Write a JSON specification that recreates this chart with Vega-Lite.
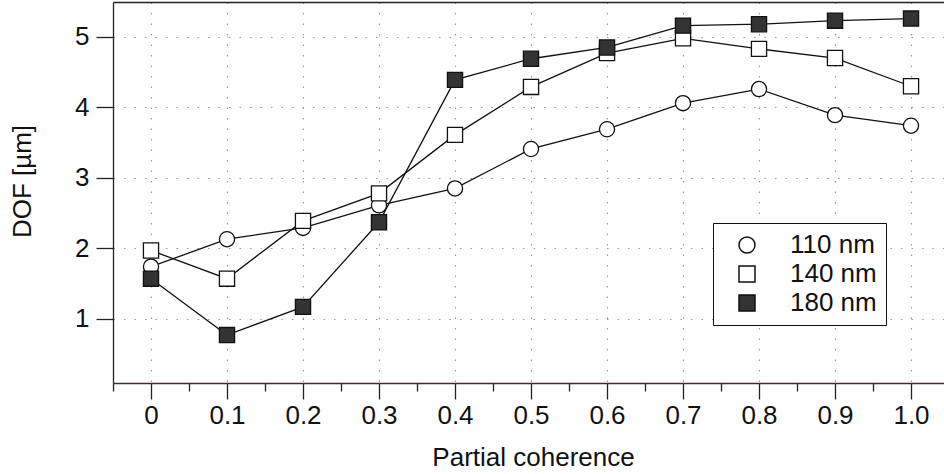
{
  "$schema": "https://vega.github.io/schema/vega-lite/v6.json",
  "width": 831,
  "height": 381,
  "autosize": {"type": "none"},
  "padding": {"left": 113, "top": 2, "right": 0, "bottom": 91},
  "background": "white",
  "config": {
    "view": {"stroke": null},
    "font": "Liberation Sans",
    "axis": {
      "labelFont": "Liberation Sans",
      "labelFontSize": 26,
      "labelColor": "#111",
      "titleFont": "Liberation Sans",
      "titleFontSize": 26,
      "titleFontWeight": "normal",
      "titleColor": "#111",
      "tickColor": "#222",
      "tickWidth": 1.3,
      "domainColor": "#222",
      "domainWidth": 1.3,
      "gridColor": "#999",
      "gridDash": [1.5, 9],
      "gridWidth": 1.2
    },
    "legend": {
      "labelFont": "Liberation Sans",
      "labelFontSize": 26,
      "labelColor": "#111"
    }
  },
  "data": {
    "values": [
      {"series": "110 nm", "pc": 0.0, "dof": 1.74},
      {"series": "110 nm", "pc": 0.1, "dof": 2.13},
      {"series": "110 nm", "pc": 0.2, "dof": 2.29},
      {"series": "110 nm", "pc": 0.3, "dof": 2.61},
      {"series": "110 nm", "pc": 0.4, "dof": 2.85},
      {"series": "110 nm", "pc": 0.5, "dof": 3.41},
      {"series": "110 nm", "pc": 0.6, "dof": 3.69},
      {"series": "110 nm", "pc": 0.7, "dof": 4.06},
      {"series": "110 nm", "pc": 0.8, "dof": 4.26},
      {"series": "110 nm", "pc": 0.9, "dof": 3.89},
      {"series": "110 nm", "pc": 1.0, "dof": 3.74},
      {"series": "140 nm", "pc": 0.0, "dof": 1.97},
      {"series": "140 nm", "pc": 0.1, "dof": 1.57},
      {"series": "140 nm", "pc": 0.2, "dof": 2.39},
      {"series": "140 nm", "pc": 0.3, "dof": 2.78},
      {"series": "140 nm", "pc": 0.4, "dof": 3.61},
      {"series": "140 nm", "pc": 0.5, "dof": 4.29},
      {"series": "140 nm", "pc": 0.6, "dof": 4.77},
      {"series": "140 nm", "pc": 0.7, "dof": 4.98},
      {"series": "140 nm", "pc": 0.8, "dof": 4.83},
      {"series": "140 nm", "pc": 0.9, "dof": 4.70},
      {"series": "140 nm", "pc": 1.0, "dof": 4.30},
      {"series": "180 nm", "pc": 0.0, "dof": 1.57},
      {"series": "180 nm", "pc": 0.1, "dof": 0.77},
      {"series": "180 nm", "pc": 0.2, "dof": 1.17},
      {"series": "180 nm", "pc": 0.3, "dof": 2.37},
      {"series": "180 nm", "pc": 0.4, "dof": 4.39},
      {"series": "180 nm", "pc": 0.5, "dof": 4.69},
      {"series": "180 nm", "pc": 0.6, "dof": 4.85},
      {"series": "180 nm", "pc": 0.7, "dof": 5.16},
      {"series": "180 nm", "pc": 0.8, "dof": 5.18},
      {"series": "180 nm", "pc": 0.9, "dof": 5.23},
      {"series": "180 nm", "pc": 1.0, "dof": 5.26}
    ]
  },
  "layer": [
    {
      "mark": {"type": "line", "color": "#111", "strokeWidth": 1.3},
      "encoding": {
        "x": {
          "field": "pc",
          "type": "quantitative",
          "scale": {"domain": [-0.05, 1.0434], "nice": false, "zero": false},
          "axis": {
            "orient": "bottom",
            "values": [0, 0.1, 0.2, 0.3, 0.4, 0.5, 0.6, 0.7, 0.8, 0.9, 1.0],
            "format": ".1f",
            "labelExpr": "datum.value == 0 ? '0' : datum.label",
            "labelBaseline": "alphabetic",
            "labelPadding": 24,
            "tickSize": 16,
            "grid": true,
            "domainColor": "#4a2a2a",
            "title": "Partial coherence",
            "titleBaseline": "alphabetic",
            "titleX": 420,
            "titleY": 82
          }
        },
        "y": {
          "field": "dof",
          "type": "quantitative",
          "scale": {"domain": [0.09, 5.495], "nice": false, "zero": false},
          "axis": {
            "values": [1, 2, 3, 4, 5],
            "format": "d",
            "tickSize": 17,
            "labelPadding": 7,
            "grid": true,
            "title": "DOF [µm]",
            "titleX": -78,
            "titleY": 179
          }
        },
        "detail": {"field": "series", "type": "nominal"}
      }
    },
    {
      "mark": {"type": "point", "filled": true, "stroke": "#111", "strokeWidth": 1.3, "opacity": 1, "size": 230},
      "encoding": {
        "x": {
          "field": "pc",
          "type": "quantitative",
          "axis": {
            "orient": "bottom",
            "values": [-0.05, 0.05, 0.15, 0.25, 0.35, 0.45, 0.55, 0.65, 0.75, 0.85, 0.95],
            "labels": false,
            "domain": false,
            "grid": false,
            "tickSize": 8,
            "title": null
          }
        },
        "y": {"field": "dof", "type": "quantitative"},
        "shape": {
          "field": "series",
          "type": "nominal",
          "scale": {"domain": ["110 nm", "140 nm", "180 nm"], "range": ["circle", "square", "square"]},
          "legend": {
            "title": null,
            "orient": "bottom-right",
            "offset": 58,
            "padding": 9,
            "strokeColor": "#111",
            "fillColor": "white",
            "symbolSize": 256,
            "symbolOffset": 12,
            "labelOffset": 30,
            "rowPadding": 3,
            "encode": {
              "symbols": {
                "update": {
                  "fill": {"signal": "datum.value === '180 nm' ? '#333' : 'white'"},
                  "stroke": {"value": "#111"},
                  "strokeWidth": {"value": 1.3},
                  "opacity": {"value": 1}
                }
              }
            }
          }
        },
        "fill": {
          "field": "series",
          "type": "nominal",
          "scale": {"domain": ["110 nm", "140 nm", "180 nm"], "range": ["white", "white", "#333"]},
          "legend": null
        }
      }
    },
    {
      "mark": {"type": "rule", "strokeOpacity": 0},
      "encoding": {
        "x": {
          "field": "pc",
          "type": "quantitative",
          "axis": {
            "orient": "top",
            "labels": false,
            "ticks": false,
            "grid": false,
            "domain": true,
            "title": null
          }
        }
      }
    }
  ],
  "resolve": {"axis": {"x": "independent"}}
}
